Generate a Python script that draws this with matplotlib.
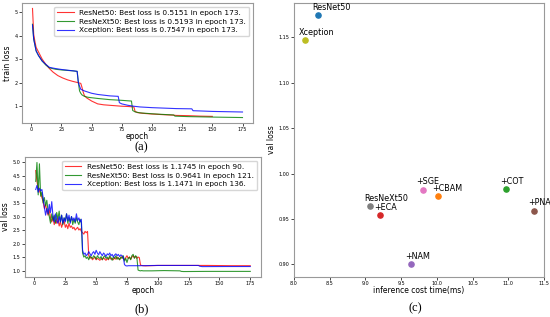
import matplotlib
matplotlib.use("Agg")
import matplotlib.pyplot as plt

# ---- (a) train loss ----
tr_ep_r = [1, 2, 3, 4, 6, 9, 12, 15, 18, 22, 26, 30, 34, 38, 41, 42, 43, 44, 46, 50, 55, 60, 65, 70, 75,
           80, 85, 86, 88, 92, 100, 110, 118, 120, 130, 140, 150]
tr_r = [5.15, 4.05, 3.75, 3.5, 3.3, 3.0, 2.78, 2.6, 2.45, 2.3, 2.2, 2.12, 2.06, 2.01, 1.97, 1.8, 1.6, 1.45,
        1.35, 1.22, 1.1, 1.06, 1.04, 1.02, 1.0, 0.99, 0.97, 0.78, 0.73, 0.7, 0.67, 0.64, 0.62, 0.61, 0.6,
        0.58, 0.57]
tr_ep_g = [1, 2, 3, 4, 6, 9, 12, 15, 20, 25, 30, 35, 38, 39, 40, 41, 42, 44, 47, 55, 65, 75, 83, 84, 86,
           90, 100, 110, 118, 119, 130, 150, 175]
tr_g = [4.48, 3.85, 3.6, 3.35, 3.15, 2.92, 2.75, 2.63, 2.57, 2.54, 2.52, 2.5, 2.48, 2.0, 1.65, 1.55, 1.48,
        1.42, 1.38, 1.33, 1.28, 1.25, 1.22, 0.82, 0.76, 0.72, 0.68, 0.65, 0.63, 0.58, 0.56, 0.54, 0.52]
tr_ep_b = [1, 2, 3, 4, 6, 9, 12, 15, 20, 25, 30, 35, 38, 39, 40, 41, 44, 50, 55, 60, 65, 72, 73, 75, 80,
           85, 90, 100, 110, 120, 133, 134, 140, 150, 160, 175]
tr_b = [4.45, 3.85, 3.6, 3.35, 3.15, 2.92, 2.78, 2.65, 2.6, 2.56, 2.53, 2.5, 2.48, 2.0, 1.85, 1.72, 1.65,
        1.55, 1.5, 1.47, 1.44, 1.42, 1.15, 1.1, 1.04, 1.0, 0.97, 0.94, 0.92, 0.9, 0.89, 0.81, 0.8, 0.78,
        0.77, 0.755]

# ---- (b) val loss: every epoch for the noisy part, then sparse tail ----
va_r = [4.70, 4.30, 4.05, 3.95, 3.85, 3.70, 3.55, 3.30, 3.45, 3.20, 3.05, 3.25, 2.95, 2.80, 3.00, 2.70,
        2.85, 2.75, 2.95, 2.65, 2.80, 2.60, 2.75, 2.85, 2.60, 2.70, 2.55, 2.75, 2.60, 2.65, 2.55, 2.60,
        2.50, 2.55, 2.60, 2.50, 2.55, 2.45, 2.40, 2.35, 2.45, 2.40, 2.45, 1.55, 1.45, 1.50, 1.40, 1.45,
        1.50, 1.40, 1.45, 1.42, 1.38, 1.45, 1.40, 1.48, 1.42, 1.38, 1.45, 1.40, 1.50, 1.42, 1.45, 1.40,
        1.48, 1.42, 1.50, 1.45, 1.40, 1.48, 1.52, 1.45, 1.40, 1.48, 1.55, 1.45, 1.50, 1.42, 1.50, 1.55,
        1.48, 1.52, 1.45, 1.50, 1.48, 1.20, 1.19, 1.18,
        1.1745, 1.19, 1.19, 1.19, 1.18, 1.18]
va_ep_r = list(range(1, 89)) + [90, 100, 120, 140, 160, 175]
va_g = [4.30, 5.00, 3.80, 4.95, 3.75, 3.90, 3.50, 3.70, 3.40, 3.60, 3.20, 3.00, 2.75, 3.10, 2.85, 3.05,
        2.75, 3.15, 2.90, 3.20, 2.80, 3.05, 2.70, 2.95, 2.85, 3.10, 2.75, 2.95, 2.80, 3.00, 2.70, 2.90,
        2.75, 2.95, 2.80, 2.70, 2.90, 2.75, 1.65, 1.50, 1.55, 1.45, 1.50, 1.40, 1.55, 1.48, 1.45, 1.55,
        1.50, 1.42, 1.55, 1.48, 1.45, 1.52, 1.40, 1.50, 1.55, 1.45, 1.50, 1.42, 1.55, 1.48, 1.38, 1.50,
        1.45, 1.55, 1.42, 1.48, 1.40, 1.50, 1.45, 1.55, 1.35, 1.45, 1.30, 1.45, 1.50, 1.40, 1.55, 1.60,
        1.45, 1.55, 1.50, 1.02, 1.00, 0.99, 1.00, 0.99,
        0.99, 1.00, 0.99, 0.97, 0.9641, 0.97, 0.97, 0.97]
va_ep_g = list(range(1, 89)) + [95, 105, 118, 119, 121, 140, 160, 175]
va_b = [4.00, 4.15, 3.90, 4.05, 3.95, 4.00, 3.70, 3.35, 3.05, 3.30, 3.10, 3.45, 3.15, 3.55, 3.00, 2.80,
        3.10, 2.85, 2.75, 3.00, 2.80, 3.05, 2.75, 2.95, 2.80, 3.10, 2.85, 3.05, 2.75, 3.00, 2.85, 2.95,
        2.80, 3.10, 2.85, 2.95, 2.80, 2.90, 1.75, 1.60, 1.65, 1.55, 1.60, 1.70, 1.62, 1.55, 1.65, 1.70,
        1.60, 1.75, 1.65, 1.58, 1.70, 1.62, 1.55, 1.65, 1.60, 1.52, 1.62, 1.58, 1.65, 1.55, 1.60, 1.50,
        1.58, 1.62, 1.55, 1.60, 1.52, 1.58, 1.55, 1.50, 1.22, 1.18, 1.17, 1.18,
        1.18, 1.19, 1.19, 1.19, 1.16, 1.1471, 1.15, 1.15]
va_ep_b = list(range(1, 77)) + [85, 100, 115, 133, 134, 136, 155, 175]

lab_a = ["ResNet50: Best loss is 0.5151 in epoch 173.",
         "ResNeXt50: Best loss is 0.5193 in epoch 173.",
         "Xception: Best loss is 0.7547 in epoch 173."]
lab_b = ["ResNet50: Best loss is 1.1745 in epoch 90.",
         "ResNeXt50: Best loss is 0.9641 in epoch 121.",
         "Xception: Best loss is 1.1471 in epoch 136."]

# ---- (c) val loss vs inference time ----
models = ["ResNet50", "Xception", "ResNeXt50", "+ECA", "+SGE", "+CBAM", "+COT", "+PNA", "+NAM"]
inf_time = [8.34, 8.15, 9.07, 9.21, 9.80, 10.02, 10.97, 11.36, 9.64]
val_loss = [1.1745, 1.1471, 0.9641, 0.954, 0.982, 0.975, 0.983, 0.959, 0.9001]
dot_cols = ["tab:blue", "tab:olive", "tab:gray", "tab:red", "tab:pink", "tab:orange",
            "tab:green", "tab:brown", "tab:purple"]

W, H = 550, 317
fig = plt.figure(figsize=(W / 100, H / 100), dpi=100)


def box(l, t, r, b):
    return [l / W, 1 - b / H, (r - l) / W, (b - t) / H]


def style(ax):
    ax.tick_params(labelsize=3.5, length=2, width=0.5, pad=1.2)
    for s in ax.spines.values():
        s.set_color("#999999")
        s.set_linewidth(0.8)


ax_a = fig.add_axes(box(22, 3, 253, 123))
ax_a.plot(tr_ep_r, tr_r, color="r", lw=0.8, alpha=0.8, label=lab_a[0])
ax_a.plot(tr_ep_g, tr_g, color="g", lw=0.8, alpha=0.8, label=lab_a[1])
ax_a.plot(tr_ep_b, tr_b, color="b", lw=0.8, alpha=0.8, label=lab_a[2])
ax_a.set_xticks(range(0, 176, 25))
ax_a.set_xlabel("epoch", fontsize=5.5, labelpad=0)
ax_a.set_ylabel("train loss", fontsize=5.5, labelpad=2)
ax_a.legend(loc="upper right", fontsize=5.3, handlelength=2.2, borderpad=0.4, labelspacing=0.35)
style(ax_a)

ax_b = fig.add_axes(box(25, 157, 261, 277))
ax_b.plot(va_ep_r, va_r, color="r", lw=0.8, alpha=0.8, label=lab_b[0])
ax_b.plot(va_ep_g, va_g, color="g", lw=0.8, alpha=0.8, label=lab_b[1])
ax_b.plot(va_ep_b, va_b, color="b", lw=0.8, alpha=0.8, label=lab_b[2])
ax_b.set_xticks(range(0, 176, 25))
ax_b.set_xlabel("epoch", fontsize=5.5, labelpad=0)
ax_b.set_ylabel("val loss", fontsize=5.5, labelpad=2)
ax_b.legend(loc="upper right", fontsize=5.3, handlelength=2.2, borderpad=0.4, labelspacing=0.35)
style(ax_b)

ax_c = fig.add_axes(box(294, 3, 544, 277))
for name, x, y, c in zip(models, inf_time, val_loss, dot_cols):
    ax_c.scatter(x, y, s=14, color=c, zorder=3)
    ax_c.annotate(name, (x, y), xytext=(-4.5, 2.5), textcoords="offset points",
                  fontsize=5.8, ha="left", va="bottom")
ax_c.set_xlim(8.0, 11.5)
ax_c.set_ylim(0.886, 1.188)
ax_c.set_xticks([8.0, 8.5, 9.0, 9.5, 10.0, 10.5, 11.0, 11.5])
ax_c.set_yticks([0.90, 0.95, 1.00, 1.05, 1.10, 1.15])
ax_c.set_xlabel("inference cost time(ms)", fontsize=5.5, labelpad=0)
ax_c.set_ylabel("val loss", fontsize=5.5, labelpad=2)
style(ax_c)

serif = dict(family="Liberation Serif", fontsize=9, ha="center", va="center")
fig.text(141.7 / W, 1 - 147.5 / H, "(a)", **serif)
fig.text(141.7 / W, 1 - 309 / H, "(b)", **serif)
fig.text(415 / W, 1 - 308.5 / H, "(c)", **serif)

fig.savefig("out.png", dpi=100)
